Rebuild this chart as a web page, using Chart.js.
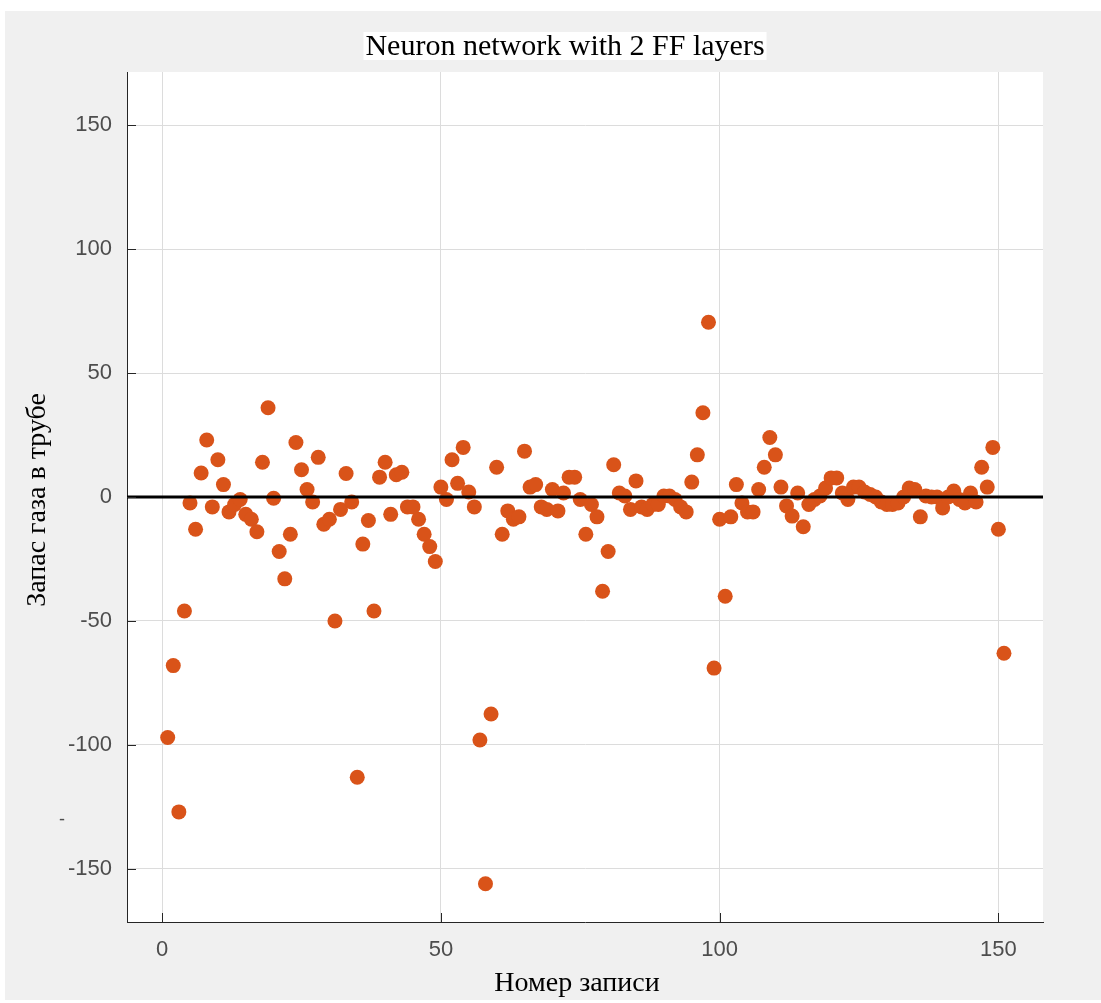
<!DOCTYPE html>
<html>
<head>
<meta charset="utf-8">
<script src="https://cdn.jsdelivr.net/npm/chart.js@4"></script>
<style>
  html, body { margin: 0; padding: 0; background: #ffffff; }
  #wrap { position: relative; width: 1101px; height: 1003px; }
  canvas { position: absolute; left: 0; top: 0; }
</style>
</head>
<body>
<div id="wrap"><canvas id="chart" width="1101" height="1003"></canvas></div>
<script>
// Title and axis labels
const chartTitle = 'Neuron network with 2 FF layers';
const xLabel = 'Номер записи';
const yLabel = 'Запас газа в трубе';

// Tick labels
const xTickValues = [0, 50, 100, 150];
const yTickValues = [-150, -100, -50, 0, 50, 100, 150];

// Gas reserve error per record (records 1..151)
const reserveError = [
    -97, -68, -127, -46, -2.4, -13, 9.7, 23, -4, 15,
    5, -6, -3, -1, -7, -9, -14, 14, 36, -0.5,
    -22, -33, -15, 22, 11, 3, -2, 16, -11, -9,
    -50, -5, 9.5, -2, -113, -19, -9.5, -46, 8, 14,
    -7, 9, 10, -4, -4, -9, -15, -20, -26, 4,
    -1, 15, 5.5, 20, 2, -4, -98, -156, -87.5, 12,
    -15, -5.6, -9, -8, 18.5, 4, 5, -4, -5, 3,
    -5.6, 1.6, 8, 8, -1, -15, -3, -8, -38, -22,
    13, 1.6, 0.4, -5, 6.5, -4, -5, -3, -3, 0.4,
    0.4, -1, -4, -6, 6, 17, 34, 70.5, -69, -9,
    -40, -8, 5, -2.4, -6, -6, 3, 12, 24, 17,
    4, -3.6, -7.7, 1.6, -12, -3, -1, 0.4, 3.6, 7.7,
    7.7, 1.6, -1, 4, 4, 2, 1, 0, -2, -3,
    -3, -2.4, 0, 3.6, 3, -8, 0.4, 0, 0, -4.4,
    0, 2.4, -1, -2.4, 1.6, -2, 12, 4, 20, -13,
    -63
];

const xRange = [-6.3, 158];
const yRange = [-171.4, 171.4];

const points = reserveError.map((v, i) => ({ x: i + 1, y: v }));

// Background, frame, texts and inner tick marks
const decorPlugin = {
    id: 'decor',
    beforeDraw(chart) {
        const ctx = chart.ctx;
        const a = chart.chartArea;
        ctx.save();
        ctx.fillStyle = '#ffffff';
        ctx.fillRect(0, 0, chart.width, chart.height);
        ctx.fillStyle = '#f0f0f0';
        ctx.fillRect(5, 11, chart.width - 5, chart.height - 14);
        ctx.fillStyle = '#ffffff';
        ctx.fillRect(a.left, a.top, a.right - a.left, a.bottom - a.top);
        ctx.restore();
    },
    afterDraw(chart) {
        const ctx = chart.ctx;
        const a = chart.chartArea;
        const xs = chart.scales.x, ys = chart.scales.y;
        ctx.save();
        // inner tick marks
        ctx.strokeStyle = '#262626';
        ctx.lineWidth = 1;
        ctx.beginPath();
        xTickValues.forEach(v => {
            const px = Math.round(xs.getPixelForValue(v)) + 0.5;
            ctx.moveTo(px, a.bottom);
            ctx.lineTo(px, a.bottom - 9);
        });
        yTickValues.forEach(v => {
            const py = Math.round(ys.getPixelForValue(v)) + 0.5;
            ctx.moveTo(a.left, py);
            ctx.lineTo(a.left + 9, py);
        });
        ctx.stroke();

        // title with white box
        ctx.font = '30px "Liberation Serif", "Times New Roman", serif';
        ctx.textAlign = 'center';
        ctx.textBaseline = 'middle';
        const tw = ctx.measureText(chartTitle).width;
        const cx = 565;
        ctx.fillStyle = '#ffffff';
        ctx.fillRect(cx - tw / 2 - 2, 32, tw + 4, 28);
        ctx.fillStyle = '#000000';
        ctx.fillText(chartTitle, cx, 47);

        // x label
        ctx.font = '28px "Liberation Serif", "Times New Roman", serif';
        ctx.fillText(xLabel, 577, 984);

        // y label
        ctx.translate(38, 500);
        ctx.rotate(-Math.PI / 2);
        ctx.fillText(yLabel, 0, 0);
        ctx.setTransform(1, 0, 0, 1, 0, 0);

        // stray dash at left
        ctx.font = '18px "Liberation Sans", Arial, sans-serif';
        ctx.fillStyle = '#4d4d4d';
        ctx.fillText('-', 62, 820);
        ctx.restore();
    }
};

new Chart(document.getElementById('chart'), {
    type: 'scatter',
    data: {
        datasets: [
            {
                type: 'line',
                data: [{ x: xRange[0], y: 0 }, { x: xRange[1], y: 0 }],
                borderColor: '#000000',
                borderWidth: 3,
                pointRadius: 0,
                order: 0
            },
            {
                data: points,
                backgroundColor: '#D95319',
                borderWidth: 0,
                pointRadius: 7.5,
                order: 1
            }
        ]
    },
    options: {
        responsive: false,
        animation: false,
        events: [],
        layout: { padding: { left: 0, top: 72, right: 58, bottom: 0 } },
        plugins: {
            legend: { display: false },
            tooltip: { enabled: false },
            title: { display: false }
        },
        scales: {
            x: {
                type: 'linear',
                min: xRange[0],
                max: xRange[1],
                afterBuildTicks: s => { s.ticks = xTickValues.map(v => ({ value: v })); },
                afterFit: s => { s.height = 81; },
                grid: { color: '#dcdcdc', lineWidth: 1, drawTicks: false },
                border: { display: true, color: '#262626', width: 1 },
                ticks: {
                    padding: 15,
                    color: '#4d4d4d',
                    font: { family: '"Liberation Sans", Arial, sans-serif', size: 22 },
                    maxRotation: 0
                }
            },
            y: {
                type: 'linear',
                min: yRange[0],
                max: yRange[1],
                afterBuildTicks: s => { s.ticks = yTickValues.map(v => ({ value: v })); },
                afterFit: s => { s.width = 127; },
                grid: { color: '#dcdcdc', lineWidth: 1, drawTicks: false },
                border: { display: true, color: '#262626', width: 1 },
                ticks: {
                    padding: 15,
                    color: '#4d4d4d',
                    font: { family: '"Liberation Sans", Arial, sans-serif', size: 22 }
                }
            }
        }
    },
    plugins: [decorPlugin]
});
</script>
</body>
</html>
